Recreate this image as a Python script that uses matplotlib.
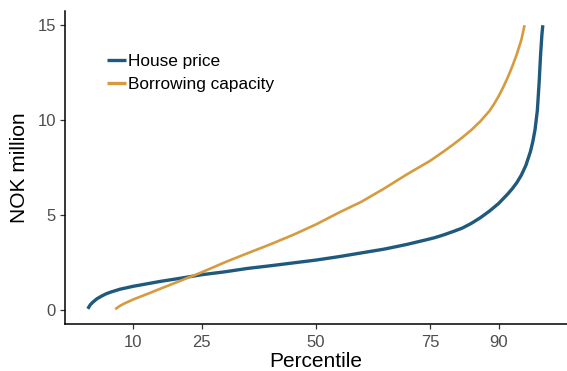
import matplotlib
matplotlib.use("Agg")
import matplotlib.pyplot as plt
import numpy as np

plt.rcParams['font.family'] = ['Liberation Sans', 'DejaVu Sans']

# 주택가격 분포 (백분위, 백만 NOK)
house_pct = [0, 0.5, 1, 2, 3, 4, 5, 7, 10, 13, 16, 20, 25, 30, 35, 40, 45, 50,
             55, 60, 65, 70, 74, 76, 78, 80, 82, 84, 86, 88, 90, 91, 92, 93,
             94, 95, 96, 97, 97.5, 98, 98.5, 98.9, 99.2, 99.5, 99.7]
house_val = [0.05, 0.25, 0.38, 0.58, 0.72, 0.84, 0.93, 1.08, 1.24, 1.37, 1.5,
             1.65, 1.85, 2.0, 2.18, 2.32, 2.47, 2.62, 2.8, 3.0, 3.2, 3.45, 3.68,
             3.8, 3.95, 4.12, 4.3, 4.55, 4.85, 5.2, 5.6, 5.85, 6.1, 6.38, 6.7,
             7.1, 7.62, 8.35, 8.85, 9.5, 10.5, 12.0, 13.4, 14.5, 15.0]

# 대출가능금액 분포
borrow_pct = [6, 7, 8, 10, 13, 16, 20, 25, 30, 35, 40, 45, 50, 55, 60, 65, 70,
              75, 78, 80, 82, 84, 86, 88, 89, 90, 91, 92, 93, 94, 95, 95.7]
borrow_val = [0.03, 0.2, 0.33, 0.55, 0.83, 1.12, 1.5, 1.98, 2.5, 2.98, 3.45,
              3.95, 4.5, 5.12, 5.7, 6.4, 7.15, 7.85, 8.35, 8.7, 9.07, 9.47, 9.93,
              10.48, 10.84, 11.25, 11.72, 12.24, 12.82, 13.47, 14.23, 15.0]

x_ticks = [10, 25, 50, 75, 90]
y_ticks = [0, 5, 10, 15]

col_house = '#1f5a7e'
col_borrow = '#d69b3e'

fig = plt.figure(figsize=(5.67, 3.71), dpi=100)
ax = fig.add_axes([65 / 567, 1 - 324 / 371, 1 - 65 / 567, (324 - 11) / 371])

ax.plot(house_pct, house_val, color=col_house, lw=2.4,
        solid_capstyle='butt', solid_joinstyle='round', label='House price')
ax.plot(borrow_pct, borrow_val, color=col_borrow, lw=1.9,
        solid_capstyle='butt', solid_joinstyle='round',
        label='Borrowing capacity')

ax.set_xlim(-5, 105)
ax.set_ylim(-0.75, 15.75)
ax.set_xticks(x_ticks)
ax.set_yticks(y_ticks)

for s in ['top', 'right']:
    ax.spines[s].set_visible(False)
for s in ['left', 'bottom']:
    ax.spines[s].set_linewidth(1.1)
    ax.spines[s].set_color('black')

ax.tick_params(axis='both', colors='#333333', length=3.6, width=0.9,
               labelsize=12, labelcolor='#4d4d4d', pad=3)
ax.tick_params(axis='x', pad=4)

ax.set_xlabel('Percentile', fontsize=15, labelpad=2)
ax.set_ylabel('NOK million', fontsize=15, labelpad=6)

leg = ax.legend(loc='upper left', bbox_to_anchor=(0.07, 0.885), frameon=False,
                fontsize=12.4, handlelength=1.12, handletextpad=0.12,
                labelspacing=0.48, borderaxespad=0)
for h in leg.get_lines():
    h.set_linewidth(2.4)

fig.savefig('out.png', dpi=100)
